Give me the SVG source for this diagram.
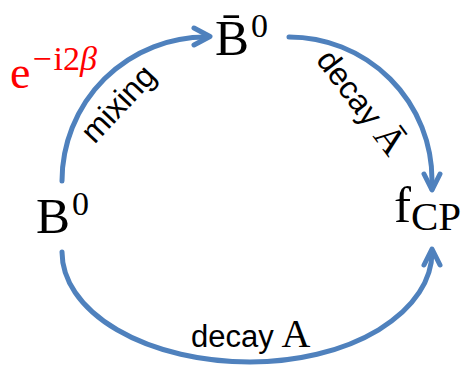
<svg xmlns="http://www.w3.org/2000/svg" width="472" height="368" viewBox="0 0 472 368">
<style>
.serif{font-family:"Liberation Serif","Times New Roman",serif;fill:#000}
.sans{font-family:"Liberation Sans",Arial,sans-serif;fill:#000}
.edge{fill:none;stroke:#4F81BD;stroke-width:5;stroke-linecap:round;stroke-linejoin:round}
</style>
<rect width="472" height="368" fill="#fff"/>
<g id="connectors">
  <path class="edge" d="M62,181 A144,144 0 0 1 207,37"/>
  <path class="edge" d="M194,28 L210,36.5 L194,45"/>
  <path class="edge" d="M289,37 A143,143 0 0 1 432,180 L432,189"/>
  <path class="edge" d="M424,174 L432,190 L440,174"/>
  <path class="edge" d="M62,252 A188,110 0 0 0 250,362 A182,110 0 0 0 432,252"/>
  <path class="edge" d="M424,265 L432,249 L440,265"/>
  <g id="label-mixing">
    <text class="sans" font-size="32" text-anchor="middle" transform="translate(126,111) rotate(-47)">mixing</text>
    <text class="serif" font-size="46" style="fill:#FF0000" x="10" y="88">e<tspan font-size="34" dy="-18" dx="2">−<tspan dx="2">i2</tspan><tspan font-style="italic">β</tspan></tspan></text>
  </g>
  <g id="label-decay-Abar">
    <text class="sans" font-size="32" text-anchor="middle" transform="translate(352,109) rotate(53)">decay<tspan class="serif" font-size="38"> Ā</tspan></text>
  </g>
  <g id="label-decay-A">
    <text class="sans" font-size="31" x="191" y="347">decay<tspan class="serif" font-size="40"> A</tspan></text>
  </g>
</g>
<g id="node-B0">
  <text class="serif" font-size="51" x="36" y="233">B<tspan font-size="34" dy="-18" dx="2">0</tspan></text>
</g>
<g id="node-B0bar">
  <text class="serif" font-size="51" x="215" y="55">B̄<tspan font-size="34" dy="-18" dx="2">0</tspan></text>
</g>
<g id="node-fCP">
  <text class="serif" font-size="51" x="394" y="222">f<tspan font-size="41" dy="8">CP</tspan></text>
</g>
</svg>
